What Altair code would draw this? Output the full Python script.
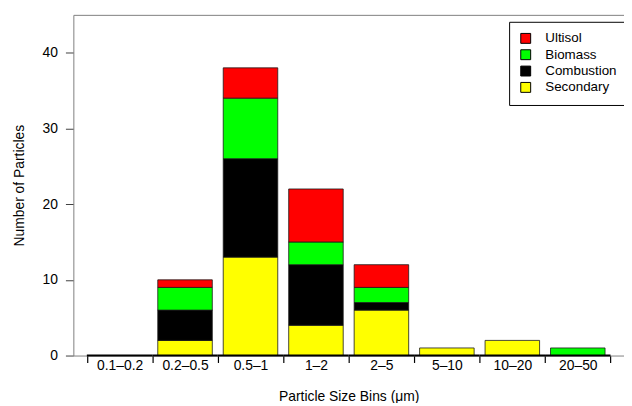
import altair as alt
import pandas as pd

bins = ["0.1–0.2", "0.2–0.5", "0.5–1", "1–2", "2–5", "5–10", "10–20", "20–50"]
secondary = [0, 2, 13, 4, 6, 1, 2, 0]
combustion = [0, 4, 13, 8, 1, 0, 0, 0]
biomass = [0, 3, 8, 3, 2, 0, 0, 1]
ultisol = [0, 1, 4, 7, 3, 0, 0, 0]
sources = ["Ultisol", "Biomass", "Combustion", "Secondary"]
colors = ["#FF0000", "#00FF00", "#000000", "#FFFF00"]
y_ticks = [0, 10, 20, 30, 40]

series = [("Secondary", secondary), ("Combustion", combustion),
          ("Biomass", biomass), ("Ultisol", ultisol)]
rows = []
for k, (name, vals) in enumerate(series):
    for b, v in zip(bins, vals):
        if v > 0:
            rows.append({"bin": b, "source": name, "count": v, "ord": k})
df = pd.DataFrame(rows)
base_df = pd.DataFrame({"bin": bins})

xscale = alt.Scale(domain=bins, paddingInner=0, paddingOuter=0.206)
yscale = alt.Scale(domain=[0, 45], nice=False, zero=True)

bars = alt.Chart(df).mark_bar(
    width=alt.RelativeBandSize(0.833), stroke="#1a1a1a", strokeWidth=0.8
).encode(
    x=alt.X("bin:N", scale=xscale, sort=bins, title="Particle Size Bins (μm)",
            axis=alt.Axis(tickBand="extent", labelAngle=0, domainColor="#808080",
                          domainWidth=1, tickColor="#000000", tickSize=7, tickWidth=1.2,
                          labelFontSize=14, labelColor="#000000", labelPadding=-3.5,
                          titleFontSize=14, titleFontWeight="normal", titleColor="#000000",
                          titlePadding=17)),
    y=alt.Y("count:Q", stack="zero", scale=yscale, title="Number of Particles",
            axis=alt.Axis(values=y_ticks, grid=False, domainColor="#808080", domainWidth=1,
                          tickColor="#404040", tickSize=8, labelFontSize=14,
                          labelColor="#000000", labelPadding=8, titleFontSize=14,
                          titleFontWeight="normal", titleColor="#000000", titlePadding=16)),
    color=alt.Color("source:N", scale=alt.Scale(domain=sources, range=colors),
                    legend=alt.Legend(title=None, orient="none", legendX=440, legendY=7,
                                      strokeColor="#000000", fillColor="#ffffff", padding=10,
                                      symbolType="square", symbolSize=100,
                                      symbolStrokeColor="#000000", symbolStrokeWidth=1,
                                      labelFontSize=13.5, labelColor="#000000",
                                      rowPadding=1.5, labelOffset=13)),
    order=alt.Order("ord:Q", sort="ascending"),
)

baseline = alt.Chart(base_df).mark_bar(
    width=alt.RelativeBandSize(1.0), stroke="#000000", strokeWidth=2, fill="#000000"
).encode(
    x=alt.X("bin:N", scale=xscale, sort=bins,
            axis=alt.Axis(orient="top", ticks=False, labels=False, title=None,
                          domainColor="#808080", domainWidth=1)),
    y=alt.datum(0),
    y2=alt.datum(0),
)

chart = alt.layer(bars, baseline).resolve_axis(x="independent").properties(
    width=556, height=344,
    padding={"left": 66, "top": 5, "right": 0, "bottom": 46},
    autosize=alt.AutoSizeParams(type="none"),
).configure(font="Liberation Sans").configure_view(stroke=None)

chart.save("out.html", embed_options={"renderer": "svg", "actions": False})
